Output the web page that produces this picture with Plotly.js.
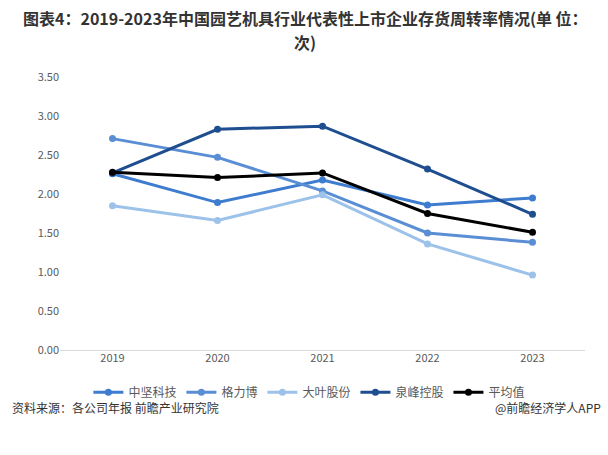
<!DOCTYPE html>
<html>
<head>
<meta charset="utf-8">
<script src="https://cdn.plot.ly/plotly-3.0.1.min.js"></script>
<style>
  html, body { margin: 0; padding: 0; background: #fff; }
  #chart { width: 608px; height: 455px; }
</style>
</head>
<body>
<div id="chart"></div>
<script>
// 存货周转率（次）
const years = ['2019', '2020', '2021', '2022', '2023'];
const zhongjian = [2.26, 1.89, 2.18, 1.86, 1.95];   // 中坚科技
const gelibo = [2.71, 2.47, 2.04, 1.50, 1.38];      // 格力博
const daye = [1.85, 1.66, 1.99, 1.36, 0.96];        // 大叶股份
const quanfeng = [2.27, 2.83, 2.87, 2.32, 1.74];    // 泉峰控股
const average = [2.28, 2.21, 2.27, 1.75, 1.51];     // 平均值
const yTicks = [0, 0.5, 1, 1.5, 2, 2.5, 3, 3.5];

const font = '"Noto Sans CJK SC", "Microsoft YaHei", sans-serif';

function series(name, y, color) {
  return {
    x: years, y: y, name: name,
    type: 'scatter', mode: 'lines+markers',
    line: { color: color, width: 3 },
    marker: { color: color, size: 7 }
  };
}

const data = [
  series('中坚科技', zhongjian, '#3d7cce'),
  series('格力博', gelibo, '#5a8ed4'),
  series('大叶股份', daye, '#9cc2ea'),
  series('泉峰控股', quanfeng, '#1f4e90'),
  series('平均值', average, '#000000')
];

// plot area runs from y=77 to y=350 px; paper units below are relative to it
const titleFont = { family: font, size: 16, color: '#333' };

const layout = {
  width: 608, height: 455,
  margin: { l: 60, r: 23, t: 77, b: 105 },
  paper_bgcolor: '#fff', plot_bgcolor: '#fff',
  font: { family: font, size: 11, color: '#595959' },
  xaxis: {
    type: 'category', range: [-0.5, 4.5],
    showgrid: false, zeroline: false,
    showline: false, ticks: '',
    tickfont: { size: 11, color: '#595959' }
  },
  yaxis: {
    range: [0, 3.5], tickvals: yTicks, tickformat: '.2f',
    showgrid: false, zeroline: true, zerolinecolor: '#d9d9d9', zerolinewidth: 1,
    showline: false, ticks: '',
    tickfont: { size: 11, color: '#595959' }
  },
  showlegend: true,
  legend: {
    orientation: 'h', x: 0.475, xanchor: 'center', y: -0.155, yanchor: 'middle',
    font: { size: 12, color: '#595959' }, itemwidth: 30, tracegroupgap: 0
  },
  annotations: [
    { text: '<b>图表4：2019-2023年中国园艺机具行业代表性上市企业存货周转率情况(单 位：</b>',
      xref: 'paper', yref: 'paper', x: 0.467, y: 1.216, xanchor: 'center', yanchor: 'middle',
      showarrow: false, font: titleFont },
    { text: '<b>次)</b>',
      xref: 'paper', yref: 'paper', x: 0.467, y: 1.13, xanchor: 'center', yanchor: 'middle',
      showarrow: false, font: titleFont },
    { text: '资料来源：各公司年报 前瞻产业研究院', xref: 'paper', yref: 'paper',
      x: -0.095, y: -0.21, xanchor: 'left', yanchor: 'middle', showarrow: false,
      font: { size: 12, color: '#333' } },
    { text: '@前瞻经济学人APP', xref: 'paper', yref: 'paper',
      x: 1.035, y: -0.21, xanchor: 'right', yanchor: 'middle', showarrow: false,
      font: { size: 12, color: '#333' } }
  ]
};

Plotly.newPlot('chart', data, layout, { displayModeBar: false, staticPlot: true });
</script>
</body>
</html>
